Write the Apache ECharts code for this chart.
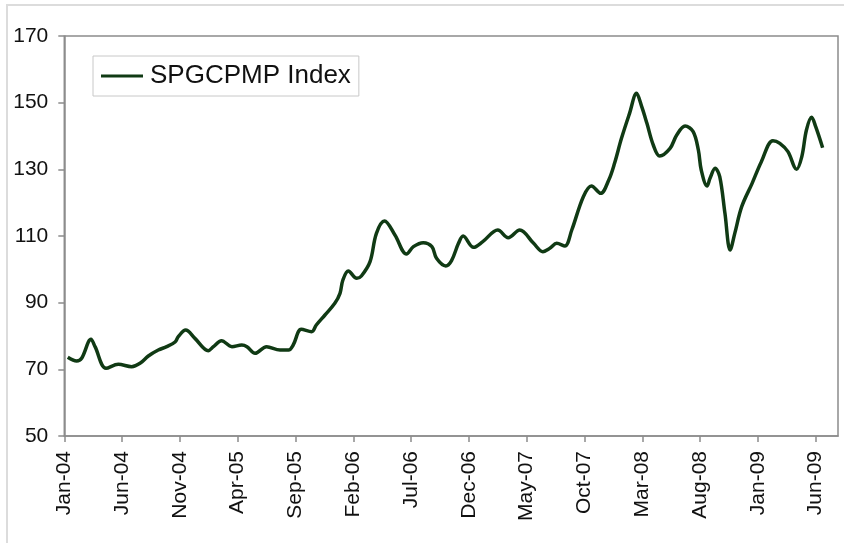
<!DOCTYPE html>
<html>
<head>
<meta charset="utf-8">
<script src="https://cdn.jsdelivr.net/npm/echarts@6/dist/echarts.min.js"></script>
<style>
html,body{margin:0;padding:0;background:#fff;}
#chart{width:844px;height:543px;}
</style>
</head>
<body>
<div id="chart"></div>
<script>
// x positions in months since start of Jan-04
var months = [0.3,1.07,1.5,2.31,2.66,3.61,4.67,5.83,6.55,7.27,8.13,8.86,9.58,9.86,10.5,11.3,12.46,12.9,13.6,14.5,15.35,15.8,16.5,17.5,18.66,19.4,19.8,20.5,21.4,21.8,22.55,23.4,23.85,24.1,24.57,25.3,25.7,26.45,27.0,27.7,28.6,29.6,30.2,31.05,31.8,32.2,33.0,33.5,34.1,34.5,35.4,36.2,37.5,38.4,39.4,40.6,41.4,42.0,42.6,43.3,43.9,44.9,45.6,46.4,47.1,47.6,48.2,48.9,49.5,49.95,50.4,50.95,51.5,52.4,52.98,53.7,54.4,54.85,55.1,55.6,55.86,56.3,56.7,57.15,57.6,58.0,58.6,59.5,60.3,61.3,61.9,62.6,63.35,63.8,64.2,64.65,65.0,65.6];
var values = [73.6,72.5,73.3,79.0,76.8,70.3,71.5,70.8,71.8,74.0,75.8,76.8,78.2,79.8,81.8,79.3,75.6,76.8,78.6,76.8,77.3,76.8,74.8,76.8,75.8,75.8,77.3,82.0,81.3,83.3,86.3,89.8,92.8,96.8,99.5,97.3,98.0,102.3,110.8,114.5,110.3,104.6,106.8,108.0,106.8,103.3,101.0,102.6,107.8,110.0,106.6,108.3,111.8,109.5,111.8,107.8,105.3,106.3,107.8,107.0,111.8,121.8,125.0,122.8,126.8,131.8,139.3,146.8,152.8,148.8,143.8,137.3,134.0,136.3,140.3,143.0,141.3,135.8,129.8,125.0,127.3,130.3,127.8,116.8,105.8,110.8,118.8,125.8,132.3,138.6,137.8,135.3,130.0,133.8,141.8,145.6,142.8,136.5];
var tickMonths = [0,5,10,15,20,25,30,35,40,45,50,55,60,65];
var tickLabels = ['Jan-04','Jun-04','Nov-04','Apr-05','Sep-05','Feb-06','Jul-06','Dec-06','May-07','Oct-07','Mar-08','Aug-08','Jan-09','Jun-09'];
var seriesName = 'SPGCPMP Index';

var points = months.map(function(m, i){ return [m, values[i]]; });
var font = 'Liberation Sans, Arial, sans-serif';

var chart = echarts.init(document.getElementById('chart'), null, {renderer:'canvas'});
chart.setOption({
  animation: false,
  backgroundColor: '#fff',
  graphic: [{
    type: 'rect',
    shape: {x: 7, y: 5, width: 900, height: 600},
    style: {fill: 'none', stroke: '#dcdcdc', lineWidth: 2},
    z: -10
  }],
  grid: {
    left: 64.3, right: 6, top: 36, bottom: 107,
    show: true, borderColor: '#8c8c8c', borderWidth: 1.5, backgroundColor: '#fff'
  },
  legend: {
    show: true,
    orient: 'horizontal',
    left: 93, top: 56,
    padding: [7, 8, 7, 8],
    borderColor: '#c8c8c8', borderWidth: 1,
    icon: 'rect',
    itemWidth: 42, itemHeight: 3,
    itemStyle: {color: '#103a14'},
    textStyle: {fontFamily: font, fontSize: 26, color: '#111', padding: [0, 0, 0, 2]},
    data: [seriesName]
  },
  xAxis: {
    type: 'value', min: 0, max: 66.93,
    splitLine: {show: false},
    axisLine: {show: true, lineStyle: {color: '#8c8c8c', width: 1.5}},
    axisTick: {show: true, length: 6, customValues: tickMonths, lineStyle: {color: '#8c8c8c', width: 1.5}},
    axisLabel: {
      customValues: tickMonths,
      rotate: 90, margin: 15,
      fontFamily: font, fontSize: 21, color: '#111',
      formatter: function(v){ var i = tickMonths.indexOf(Math.round(v)); return i >= 0 ? tickLabels[i] : ''; }
    }
  },
  yAxis: {
    type: 'value', min: 50, max: 170, interval: 20,
    splitLine: {show: false},
    axisLine: {show: true, lineStyle: {color: '#8c8c8c', width: 1.5}},
    axisTick: {show: true, length: 6, lineStyle: {color: '#8c8c8c', width: 1.5}},
    axisLabel: {margin: 16, fontFamily: font, fontSize: 21, color: '#111'}
  },
  series: [{
    name: seriesName,
    type: 'line',
    data: points,
    smooth: 0.35,
    symbol: 'none',
    lineStyle: {color: '#103a14', width: 3.5},
    itemStyle: {color: '#103a14'}
  }]
});
</script>
</body>
</html>
